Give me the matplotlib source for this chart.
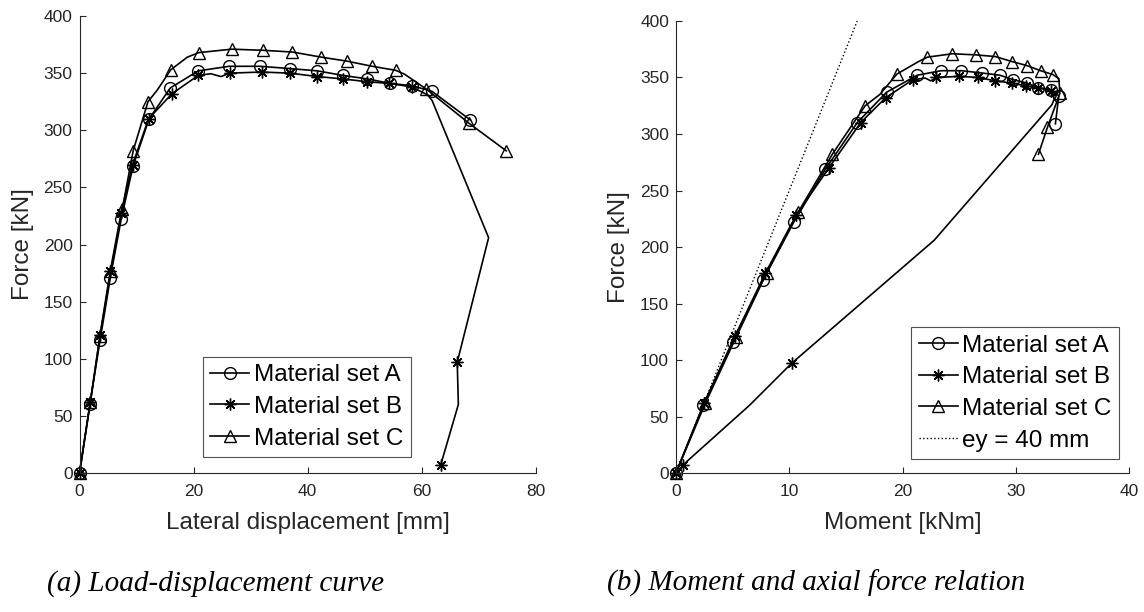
import matplotlib
matplotlib.use("Agg")
import matplotlib.pyplot as plt
from matplotlib.lines import Line2D

plt.rcParams['font.family'] = ['Liberation Sans', 'DejaVu Sans']

# material set A
a_disp = [0, 1.8, 3.6, 5.4, 7.3, 9.4, 12.2, 15.9, 20.8, 26.2, 31.7, 36.9, 41.7, 46.2, 50.4, 54.5, 58.3, 61.8, 68.5]
a_force = [0, 60, 116, 171, 222, 269, 310, 337, 352, 356, 356, 354, 352, 348, 345, 341, 339, 334, 309]
a_moment = [0, 2.4, 5.0, 7.7, 10.4, 13.2, 16.0, 18.6, 21.3, 23.4, 25.2, 27.0, 28.6, 29.8, 31.0, 32.0, 33.1, 33.8, 33.5]
a_marks = list(range(len(a_disp)))

# material set B
b_disp = [0, 1.9, 3.6, 5.4, 7.3, 9.3, 12.1, 16.2, 20.8, 23.0, 24.8, 26.3, 31.9, 36.9, 41.7, 46.1,
          50.4, 54.3, 58.2, 61.0, 61.8, 71.7, 66.2, 66.4, 63.3]
b_force = [0, 62, 121, 177, 228, 270, 310, 332, 348, 349.5, 347, 350, 351, 350, 347, 345,
           342.5, 341, 338, 331, 326, 206, 97, 60, 7]
b_moment = [0, 2.5, 5.2, 7.9, 10.6, 13.5, 16.3, 18.5, 20.9, 22.0, 22.5, 23.0, 25.0, 26.7, 28.2, 29.7,
            30.9, 32.0, 33.1, 33.4, 33.2, 22.8, 10.2, 6.5, 0.6]
b_marks = [0, 1, 2, 3, 4, 5, 6, 7, 8, 11, 12, 13, 14, 15, 16, 17, 18, 22, 24]

# material set C
c_disp = [0, 1.9, 3.6, 5.5, 7.5, 9.4, 12.0, 13.6, 16.0, 18.9, 20.9, 26.7, 32.2, 37.3, 42.4, 46.9,
          51.3, 55.4, 57.0, 60.8, 68.3, 74.8]
c_force = [0, 62, 120, 177, 231, 282, 325, 335, 353, 364, 368, 371, 370, 368.5, 364, 360.5,
           356, 352.5, 349, 336, 306, 282]
c_moment = [0, 2.6, 5.3, 8.0, 10.8, 13.8, 16.7, 18.0, 19.5, 21.4, 22.2, 24.4, 26.5, 28.2, 29.7, 31.0,
            32.2, 33.3, 33.8, 33.9, 32.8, 32.0]
c_marks = [0, 1, 2, 3, 4, 5, 6, 8, 10, 11, 12, 13, 14, 15, 16, 17, 19, 20, 21]

# eccentricity line ey = 40 mm
ey_moment = [0, 16]
ey_force = [0, 400]

labels = ["Material set A", "Material set B", "Material set C"]
markers = ["o", (8, 2, 0), "^"]
axcol = "#262626"

fig = plt.figure(figsize=(11.44, 6.12), dpi=100)
ax1 = fig.add_axes([0.0695, 0.2271, 0.399, 0.7467])
ax2 = fig.add_axes([0.5909, 0.2271, 0.396, 0.7386])


def draw(ax, xs_list):
    series = [(xs_list[0], a_force, a_marks), (xs_list[1], b_force, b_marks), (xs_list[2], c_force, c_marks)]
    for (xs, fs, mk), m in zip(series, markers):
        ax.plot(xs, fs, color="k", lw=1.2, marker=m, markevery=mk, ms=8.5,
                mfc="none", mec="k", mew=1.0, clip_on=False)


def style(ax):
    for s in ["top", "right"]:
        ax.spines[s].set_visible(False)
    for s in ["left", "bottom"]:
        ax.spines[s].set_color(axcol)
        ax.spines[s].set_linewidth(0.8)
    ax.tick_params(direction="in", length=4, width=0.8, color=axcol,
                   labelcolor=axcol, labelsize=12.5)
    ax.tick_params(axis="x", pad=8)
    ax.tick_params(axis="y", pad=5)
    ax.set_ylim(0, 400)
    ax.set_yticks(range(0, 401, 50))
    ax.set_ylabel("Force [kN]", fontsize=17.5, color=axcol, labelpad=7)


def handles(with_ey):
    hs = [Line2D([], [], color="k", lw=1.2, marker=m, ms=8.5, mfc="none", mec="k", mew=1.0)
          for m in markers]
    if with_ey:
        hs.append(Line2D([], [], color="k", lw=1.0, ls=":"))
    return hs


draw(ax1, [a_disp, b_disp, c_disp])
style(ax1)
ax1.set_xlim(0, 80)
ax1.set_xticks(range(0, 81, 20))
ax1.set_xlabel("Lateral displacement [mm]", fontsize=17.5, color=axcol, labelpad=9)
leg1 = ax1.legend(handles(False), labels, loc="lower right", bbox_to_anchor=(0.726, 0.035),
                  borderaxespad=0, fontsize=17.5, fancybox=False, edgecolor=axcol,
                  handlelength=1.6, handletextpad=0.2, labelspacing=0.4, borderpad=0.3)
leg1.get_frame().set_linewidth(0.8)

draw(ax2, [a_moment, b_moment, c_moment])
ax2.plot(ey_moment, ey_force, color="k", lw=1.0, ls=":")
style(ax2)
ax2.set_xlim(0, 40)
ax2.set_xticks(range(0, 41, 10))
ax2.set_xlabel("Moment [kNm]", fontsize=17.5, color=axcol, labelpad=9)
leg2 = ax2.legend(handles(True), labels + ["ey = 40 mm"], loc="lower right",
                  bbox_to_anchor=(0.978, 0.031), borderaxespad=0, fontsize=17.5,
                  fancybox=False, edgecolor=axcol, handlelength=1.6, handletextpad=0.2,
                  labelspacing=0.4, borderpad=0.3)
leg2.get_frame().set_linewidth(0.8)

# sub-figure captions
fig.text(0.041, 0.047, "(a) Load-displacement curve", family="Liberation Serif",
         style="italic", fontsize=21, va="center")
fig.text(0.531, 0.047, "(b) Moment and axial force relation", family="Liberation Serif",
         style="italic", fontsize=21, va="center")

fig.savefig("out.png", dpi=100)
